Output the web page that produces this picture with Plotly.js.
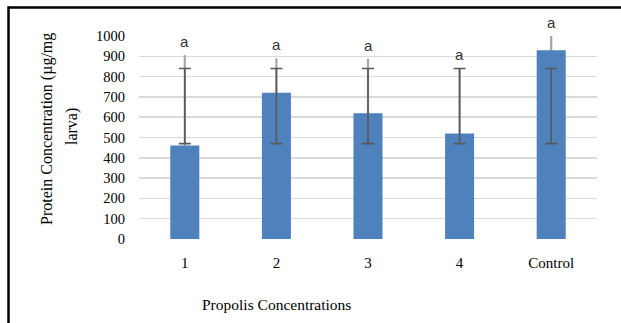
<!DOCTYPE html>
<html>
<head>
<meta charset="utf-8">
<script src="https://cdn.plot.ly/plotly-3.0.1.min.js"></script>
<style>
  html, body { margin: 0; padding: 0; background: #ffffff; }
  #chart { width: 621px; height: 323px; }
</style>
</head>
<body>
<div id="chart"></div>
<script>
// ---- data ----
const categories = ['1', '2', '3', '4', 'Control'];
const values = [460, 720, 620, 520, 930];          // protein concentration (µg/mg larva)
const lightErr = [446, 170, 267, 320, 75];         // light grey error bars (symmetric)
const sdLow = [470, 470, 470, 470, 470];           // dark error bar lower ends
const sdHigh = [840, 840, 840, 840, 840];          // dark error bar upper ends
const letters = ['a', 'a', 'a', 'a', 'a'];         // significance letters

const serif = 'Liberation Serif, Times New Roman, serif';
const yMax = 1000;

// light grey error bars, drawn behind the blue bars
const traceLight = {
  type: 'bar',
  x: categories,
  y: values,
  marker: { color: 'rgba(0,0,0,0)', line: { width: 0 } },
  error_y: {
    type: 'data', symmetric: true, array: lightErr,
    color: '#A6A6A6', thickness: 2.2, width: 0
  },
  hoverinfo: 'skip',
  showlegend: false
};

const traceBars = {
  type: 'bar',
  x: categories,
  y: values,
  marker: { color: '#4F81BD', line: { width: 0 } },
  showlegend: false
};

const traceSD = {
  type: 'scatter',
  mode: 'markers',
  x: categories,
  y: sdLow,
  marker: { size: 1, opacity: 0 },
  error_y: {
    type: 'data', symmetric: false,
    array: sdHigh.map((h, i) => h - sdLow[i]),
    arrayminus: sdLow.map(() => 0),
    color: '#595959', thickness: 1.6, width: 6
  },
  cliponaxis: false,
  hoverinfo: 'skip',
  showlegend: false
};

// plot-area pixel geometry helpers (paper coords)
const L = 139, R = 24, T = 36, B = 84, W = 621, H = 323;
const pw = W - L - R, ph = H - T - B;
const px = x => (x - L) / pw;
const py = y => (H - B - y) / ph;

// category index positions (numeric-looking category names would otherwise be read as indices)
const annotations = categories.map((c, i) => ({
  x: i, y: Math.min(values[i] + lightErr[i], yMax),
  xref: 'x', yref: 'y',
  text: letters[i],
  showarrow: false,
  yanchor: 'bottom',
  yshift: 3,
  font: { family: 'Liberation Sans, Arial, sans-serif', size: 15, color: '#333333' }
}));

annotations.push({
  xref: 'paper', yref: 'paper', x: px(47), y: py(129),
  text: 'Protein Concentration (µg/mg', textangle: -90,
  showarrow: false, xanchor: 'center', yanchor: 'middle',
  font: { family: serif, size: 16, color: '#000000' }
});
annotations.push({
  xref: 'paper', yref: 'paper', x: px(72), y: py(127),
  text: 'larva)', textangle: -90,
  showarrow: false, xanchor: 'center', yanchor: 'middle',
  font: { family: serif, size: 16, color: '#000000' }
});
annotations.push({
  xref: 'paper', yref: 'paper', x: px(276), y: py(304),
  text: 'Propolis Concentrations',
  showarrow: false, xanchor: 'center', yanchor: 'middle',
  font: { family: serif, size: 15.5, color: '#000000' }
});

const layout = {
  width: W, height: H,
  margin: { l: L, r: R, t: T, b: B, pad: 0 },
  paper_bgcolor: '#ffffff',
  plot_bgcolor: '#ffffff',
  barmode: 'overlay',
  bargap: 0.683,
  showlegend: false,
  font: { family: serif, color: '#000000' },
  xaxis: {
    type: 'category',
    showgrid: false, showline: false, zeroline: false,
    ticks: 'outside', ticklen: 10, tickcolor: 'rgba(0,0,0,0)',
    tickfont: { family: serif, size: 15, color: '#000000' }
  },
  yaxis: {
    range: [0, yMax], dtick: 100, tick0: 0,
    showgrid: true, gridcolor: '#D9D9D9', gridwidth: 1.5,
    zeroline: false, showline: false,
    ticks: 'outside', ticklen: 10, tickcolor: 'rgba(0,0,0,0)',
    tickfont: { family: serif, size: 14.5, color: '#000000' }
  },
  annotations: annotations,
  shapes: [
    { type: 'line', xref: 'paper', yref: 'paper',
      x0: px(8.5), x1: px(640), y0: py(7.5), y1: py(7.5),
      line: { color: '#000000', width: 2.5 } },
    { type: 'line', xref: 'paper', yref: 'paper',
      x0: px(8.5), x1: px(8.5), y0: py(6.3), y1: py(340),
      line: { color: '#000000', width: 2.5 } }
  ]
};

Plotly.newPlot('chart', [traceLight, traceBars, traceSD], layout, { staticPlot: true, displayModeBar: false });
</script>
</body>
</html>
